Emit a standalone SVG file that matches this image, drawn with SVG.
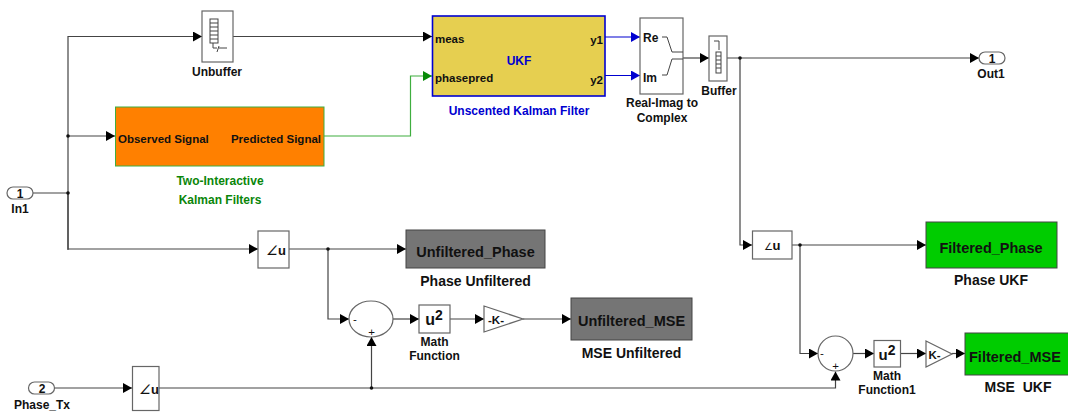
<svg xmlns="http://www.w3.org/2000/svg" width="1068" height="415" viewBox="0 0 1068 415">
<defs>
<marker id="ak" markerUnits="userSpaceOnUse" markerWidth="9" markerHeight="10" refX="9" refY="5" orient="auto"><path d="M0 0L9 5L0 10Z" fill="#000"/></marker>
<marker id="ab" markerUnits="userSpaceOnUse" markerWidth="9" markerHeight="10" refX="9" refY="5" orient="auto"><path d="M0 0L9 5L0 10Z" fill="#0000d0"/></marker>
<marker id="ag" markerUnits="userSpaceOnUse" markerWidth="9" markerHeight="10" refX="9" refY="5" orient="auto"><path d="M0 0L9 5L0 10Z" fill="#088a08"/></marker>
</defs>
<style>
text{font-family:"Liberation Sans",Arial,sans-serif;font-size:12px;font-weight:bold;fill:#111;text-anchor:middle}
.s{font-size:11.5px}
.l{text-anchor:start}
.e{text-anchor:end}
.big{font-size:14.5px;font-weight:bold}
.w{fill:#fff;stroke:#666;stroke-width:1.2}
.gray{fill:#757575;stroke:#444;stroke-width:1}
.lime{fill:#00cc00;stroke:#444;stroke-width:1}
.c{fill:none;stroke:#444;stroke-width:1.2}
.j{fill:#111}
.sym{fill:none;stroke:#444;stroke-width:1}
</style>
<rect width="1068" height="415" fill="#fff"/>
<g id="connectors">
<path class="c" d="M33 193H68" />
<path class="c" d="M68 250V36.500H202" marker-end="url(#ak)"/>
<path class="c" d="M68 136H115" marker-end="url(#ak)"/>
<path class="c" d="M68 193V249H258" marker-end="url(#ak)"/>
<path class="c" d="M233 36.500H432" marker-end="url(#ak)"/>
<path d="M324 136H410.500V76H432" fill="none" stroke="#3fae3f" stroke-width="1.2" marker-end="url(#ag)"/>
<path d="M605 37H640" fill="none" stroke="#0000d0" stroke-width="1.2" marker-end="url(#ab)"/>
<path d="M605 75.500H640" fill="none" stroke="#0000d0" stroke-width="1.2" marker-end="url(#ab)"/>
<path class="c" d="M683 58H709" marker-end="url(#ak)"/>
<path class="c" d="M727 58H979" marker-end="url(#ak)"/>
<path class="c" d="M740 58V245H752" marker-end="url(#ak)"/>
<path class="c" d="M792 245H926" marker-end="url(#ak)"/>
<path class="c" d="M800 245V353.500H818" marker-end="url(#ak)"/>
<path class="c" d="M853 353.500H874" marker-end="url(#ak)"/>
<path class="c" d="M900 353.500H926" marker-end="url(#ak)"/>
<path class="c" d="M952 353.500H965" marker-end="url(#ak)"/>
<path class="c" d="M289 249H406" marker-end="url(#ak)"/>
<path class="c" d="M328 249V319H349" marker-end="url(#ak)"/>
<path class="c" d="M393 319H419" marker-end="url(#ak)"/>
<path class="c" d="M450 319H484" marker-end="url(#ak)"/>
<path class="c" d="M523 319H571" marker-end="url(#ak)"/>
<path class="c" d="M55 388H132" marker-end="url(#ak)"/>
<path class="c" d="M159 388H835.500V371.500" marker-end="url(#ak)"/>
<path class="c" d="M371.500 388V337" marker-end="url(#ak)"/>
<circle class="j" cx="68" cy="136" r="1.800"/>
<circle class="j" cx="68" cy="193" r="1.800"/>
<circle class="j" cx="328" cy="249" r="1.800"/>
<circle class="j" cx="371.500" cy="388" r="1.800"/>
<circle class="j" cx="740" cy="58" r="1.800"/>
<circle class="j" cx="800" cy="245" r="1.800"/>
</g>
<g id="in1"><rect class="w" x="7" y="187" width="26" height="12" rx="6"/><text x="20" y="198">1</text><text x="20" y="213">In1</text></g>
<g id="phase_tx"><rect class="w" x="28.500" y="382" width="26" height="12" rx="6"/><text x="42" y="393">2</text><text x="42" y="409">Phase_Tx</text></g>
<g id="unbuffer"><rect class="w" x="202" y="11" width="31" height="51"/>
<rect class="sym" x="210" y="19" width="8" height="24" fill="#fff"/><path class="sym" d="M210 23H218M210 27H218M210 31H218M210 35H218M210 39H218M213 43V48H217M217 52L219 46M219 48H227"/><text x="217" y="76">Unbuffer</text></g>
<g id="two_interactive"><rect x="115.500" y="107" width="208.500" height="59" fill="#ff8000" stroke="#3fae3f" stroke-width="1"/><text class="l s" x="118" y="143">Observed Signal</text><text class="e s" x="321" y="143">Predicted Signal</text><text x="220" y="185" style="fill:#0a860a">Two-Interactive</text><text x="220" y="204" style="fill:#0a860a">Kalman Filters</text></g>
<g id="ukf"><rect x="432.500" y="16" width="172.500" height="80" fill="#e6cf50" stroke="#0000d0" stroke-width="1.600"/><text class="l s" x="435" y="43">meas</text><text class="l s" x="435" y="82">phasepred</text><text class="e s" x="603" y="44">y1</text><text class="e s" x="603" y="84">y2</text><text x="519" y="65" style="fill:#0000d0">UKF</text><text x="519" y="115" style="fill:#0000d0">Unscented Kalman Filter</text></g>
<g id="real_imag"><rect class="w" x="640" y="18" width="43" height="76"/><text class="l" x="643" y="42">Re</text><text class="l" x="643" y="82">Im</text><path class="sym" d="M662 37H667L672 52H683M662 75H667L672 59H683"/><text x="662" y="107">Real-Imag to</text><text x="662" y="122">Complex</text></g>
<g id="buffer"><rect class="w" x="709" y="36" width="18" height="45"/><rect class="sym" x="716" y="52" width="5" height="21"/><path class="sym" d="M716 56H721M716 60H721M716 64H721M716 68H721M714 41H719V50"/><text x="719" y="95">Buffer</text></g>
<g id="out1"><rect class="w" x="979" y="52" width="26" height="12" rx="6"/><text x="992" y="63">1</text><text x="991" y="78">Out1</text></g>
<g id="angle1"><rect class="w" x="258" y="231" width="31" height="37"/><text x="276" y="255" style="font-size:13px"><tspan style="font-weight:normal;font-style:italic">∠</tspan>u</text></g>
<g id="angle2"><rect class="w" x="132.500" y="366.500" width="26.500" height="44"/><text x="149" y="394" style="font-size:13px"><tspan style="font-weight:normal;font-style:italic">∠</tspan>u</text></g>
<g id="angle3"><rect class="w" x="752.500" y="231" width="39.500" height="28"/><text x="772" y="250" style="font-size:13px"><tspan style="font-weight:normal;font-size:10px">∠</tspan>u</text></g>
<g id="unfiltered_phase"><rect class="gray" x="406" y="230" width="139" height="38"/><text class="big" x="475.500" y="257">Unfiltered_Phase</text><text x="475.500" y="286" style="font-size:14px">Phase Unfiltered</text></g>
<g id="sum1"><ellipse class="w" cx="371" cy="319" rx="22" ry="18"/><text x="355" y="323" class="s" style="font-weight:normal">-</text><text x="371.500" y="336" class="s" style="font-weight:normal">+</text></g>
<g id="math1"><rect class="w" x="419" y="305" width="31" height="28"/><text x="434" y="325" style="font-size:16px">u<tspan dy="-5" style="font-size:14px">2</tspan></text><text x="434.500" y="346">Math</text><text x="434.500" y="360">Function</text></g>
<g id="gain1"><path class="w" d="M484 306L523 319L484 332Z"/><text x="496" y="324" class="s">-K-</text></g>
<g id="unfiltered_mse"><rect class="gray" x="571" y="298" width="121" height="42"/><text class="big" x="631.500" y="326">Unfiltered_MSE</text><text x="631.500" y="358" style="font-size:14px">MSE Unfiltered</text></g>
<g id="filtered_phase"><rect class="lime" x="926" y="222" width="131" height="46"/><text class="big" x="991" y="253">Filtered_Phase</text><text x="991" y="285" style="font-size:14px">Phase UKF</text></g>
<g id="sum2"><circle class="w" cx="835.500" cy="353.500" r="17.500"/><text x="822" y="357" class="s" style="font-weight:normal">-</text><text x="835.500" y="370" class="s" style="font-weight:normal">+</text></g>
<g id="math2"><rect class="w" x="874" y="340.500" width="26.500" height="26.500"/><text x="887" y="360" style="font-size:15px">u<tspan dy="-5" style="font-size:14px">2</tspan></text><text x="887" y="380">Math</text><text x="887" y="394">Function1</text></g>
<g id="gain2"><path class="w" d="M926 341L952 354L926 367Z"/><text x="934.500" y="359" class="s">K-</text></g>
<g id="filtered_mse"><rect class="lime" x="965" y="333" width="110" height="42"/><text class="big l" x="969" y="362">Filtered_MSE</text><text x="1018" y="392" style="font-size:14px" xml:space="preserve">MSE  UKF</text></g>
</svg>
